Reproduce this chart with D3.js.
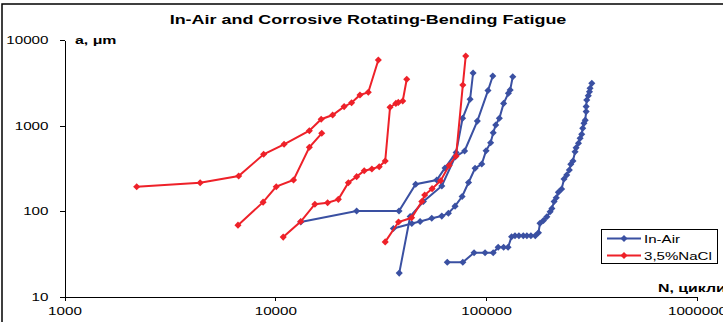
<!DOCTYPE html>
<html lang="en">
<head>
<meta charset="UTF-8">
<title>In-Air and Corrosive Rotating-Bending Fatigue</title>
<script src="https://cdn.jsdelivr.net/npm/d3@7"></script>
<style>
    body { margin: 0; background: #fff; }
    svg { font-family: Arial, "Liberation Sans", sans-serif; }
    .axis path, .axis line { stroke: #000; stroke-width: 1; shape-rendering: crispEdges; }
    .axis text { font-size: 11px; fill: #000; }
    .title { font-size: 13px; font-weight: bold; }
    .label { font-size: 11.5px; font-weight: bold; }
    .legend text { font-size: 11.5px; }
</style>
</head>
<body>
<div id="chart"></div>
<script>
    /* global d3 */

    var xTicks = [1000, 10000, 100000, 1000000];
    var yTicks = [10, 100, 1000, 10000];

    // 3,5% NaCl curves
    var nacl1N = [2200, 4400, 6700, 8800, 11000, 14500, 16500, 18700, 21200, 23000, 25200, 27600, 30800];
    var nacl1A = [194, 216, 258, 463, 606, 873, 1190, 1330, 1670, 1850, 2280, 2450, 5840];
    var nacl2N = [6650, 8750, 10100, 12200, 14500, 16600];
    var nacl2A = [69, 128, 194, 232, 559, 814];
    var nacl3N = [10900, 13200, 15400, 17700, 19900, 22200, 24300, 26400, 28700, 31100, 33200, 35000, 37300, 38300, 40200, 42000];
    var nacl3A = [50, 76, 121, 126, 138, 216, 254, 298, 312, 332, 387, 1640, 1820, 1870, 1940, 3480];
    var nacl4N = [33200, 38400, 44300, 49500, 51100, 55400, 60800, 66700, 72000, 77500, 80000];
    var nacl4A = [44, 75, 84, 130, 155, 184, 228, 343, 443, 2980, 6510];

    // In-Air curves
    var air1N = [13200, 24300, 38600, 46300, 58300, 63800, 72000, 77300, 83900, 86700];
    var air1A = [75, 101, 101, 207, 232, 321, 486, 1220, 2030, 4120];
    var air2N = [38700, 43600, 50400, 61600, 71200, 79000, 90800, 102000, 107500];
    var air2A = [19, 87, 130, 198, 431, 506, 1130, 2570, 3800];
    var air3N = [36300, 44400, 48600, 55200, 61600, 66200, 71200, 76900, 82500, 88600, 95300, 99900, 105000, 108000, 111000, 115500, 121000, 127500, 130000, 133700];
    var air3A = [63, 72, 76, 83, 88, 95, 115, 149, 217, 318, 357, 510, 633, 828, 1020, 1220, 1820, 2390, 2610, 3730];
    var air4N = [65400, 77500, 87600, 98800, 108000, 114000, 121000, 127000, 132000, 137000, 143000, 150000, 156000, 163000, 171000, 177000, 180000, 187000, 194000, 201000, 205000, 210000, 215000, 220000, 228000, 234000, 241000, 248000, 252000, 258000, 264000, 267000, 274000, 279000, 284000, 287000, 291000, 295000, 298000, 298000, 300000, 305000, 309000, 311000, 317000];
    var air4A = [25.4, 25.4, 32.9, 32.9, 32.9, 38, 38, 38, 50.6, 51.9, 51.9, 51.9, 51.9, 51.9, 51.9, 56.3, 72.5, 78.2, 86.6, 99, 108, 130, 144, 167, 182, 238, 266, 304, 354, 387, 497, 553, 623, 712, 793, 932, 1070, 1160, 1460, 1670, 1990, 2240, 2490, 2730, 3120];

    var blue = "#3a50a2";
    var red = "#ee2129";

    function zip(n, a) {
        return n.map(function (d, i) { return [d, a[i]]; });
    }

    var curves = [
        { color: blue, pts: zip(air1N, air1A) },
        { color: blue, pts: zip(air2N, air2A) },
        { color: blue, pts: zip(air3N, air3A) },
        { color: blue, pts: zip(air4N, air4A) },
        { color: red, pts: zip(nacl1N, nacl1A) },
        { color: red, pts: zip(nacl2N, nacl2A) },
        { color: red, pts: zip(nacl3N, nacl3A) },
        { color: red, pts: zip(nacl4N, nacl4A) }
    ];

    var width = 723, height = 322;

    var svg = d3.select("#chart").append("svg")
        .attr("width", width)
        .attr("height", height);

    // chart border
    svg.append("rect")
        .attr("x", 2).attr("y", 4)
        .attr("width", width + 10).attr("height", height + 10)
        .attr("fill", "none")
        .attr("stroke", "#000")
        .attr("stroke-width", 1.5);

    var x = d3.scaleLog().domain([1000, 1000000]).range([64.5, 697]);
    var y = d3.scaleLog().domain([10, 10000]).range([297, 40]);

    var xAxis = svg.append("g")
        .attr("class", "axis")
        .attr("transform", "translate(0,297)")
        .call(d3.axisBottom(x).tickValues(xTicks).tickFormat(d3.format("d"))
            .tickSize(4).tickSizeOuter(0).tickPadding(6));

    var yAxis = svg.append("g")
        .attr("class", "axis")
        .attr("transform", "translate(64.5,0)")
        .call(d3.axisLeft(y).tickValues(yTicks).tickFormat(d3.format("d"))
            .tickSize(5).tickSizeOuter(0).tickPadding(11));

    var title = svg.append("text")
        .attr("class", "title")
        .attr("x", 368).attr("y", 23.5)
        .attr("text-anchor", "middle")
        .text("In-Air and Corrosive Rotating-Bending Fatigue");

    var aLabel = svg.append("text")
        .attr("class", "label")
        .attr("x", 75).attr("y", 44)
        .text("a, μm");

    var nLabel = svg.append("text")
        .attr("class", "label")
        .attr("x", 658).attr("y", 292)
        .text("N, цикли");

    var line = d3.line()
        .x(function (d) { return x(d[0]); })
        .y(function (d) { return y(d[1]); });

    var diamond = d3.symbol().type(d3.symbolDiamond2).size(32);

    var g = svg.append("g");
    curves.forEach(function (c) {
        g.append("path")
            .attr("d", line(c.pts))
            .attr("fill", "none")
            .attr("stroke", c.color)
            .attr("stroke-width", 2);
        g.selectAll(null)
            .data(c.pts)
            .enter().append("path")
            .attr("d", diamond)
            .attr("transform", function (d) {
                return "translate(" + x(d[0]) + "," + y(d[1]) + ")";
            })
            .attr("fill", c.color);
    });

    // legend
    var legend = svg.append("g").attr("class", "legend");
    legend.append("rect")
        .attr("x", 601.5).attr("y", 229.5)
        .attr("width", 116).attr("height", 34)
        .attr("fill", "#fff")
        .attr("stroke", "#000");
    [["In-Air", blue], ["3,5%NaCl", red]].forEach(function (e, i) {
        var ly = 238.5 + i * 17;
        legend.append("line")
            .attr("x1", 607).attr("x2", 641)
            .attr("y1", ly).attr("y2", ly)
            .attr("stroke", e[1]).attr("stroke-width", 2);
        legend.append("path")
            .attr("d", diamond)
            .attr("transform", "translate(624," + ly + ")")
            .attr("fill", e[1]);
        legend.append("text")
            .attr("x", 644).attr("y", ly + 4)
            .text(e[0]);
    });

    // the source text is drawn wider than plain Arial
    function stretch(sel, k) {
        sel.each(function () {
            var w = this.getComputedTextLength();
            d3.select(this)
                .attr("textLength", w * k)
                .attr("lengthAdjust", "spacingAndGlyphs");
        });
    }
    stretch(xAxis.selectAll("text"), 1.38);
    stretch(yAxis.selectAll("text"), 1.38);
    stretch(title, 1.38);
    stretch(aLabel, 1.38);
    stretch(nLabel, 1.38);
    stretch(legend.selectAll("text"), 1.31);
</script>
</body>
</html>
